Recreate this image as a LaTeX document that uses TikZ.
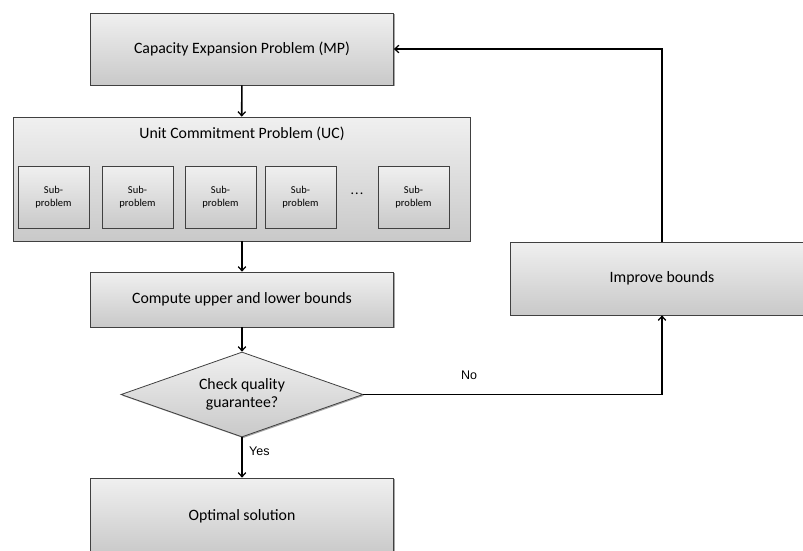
\documentclass[tikz,border=0pt]{standalone}
\usepackage{fontspec}
\setmainfont{Carlito}
\newfontfamily\labelfont{Liberation Sans}
\usetikzlibrary{shapes.geometric,shadows,arrows.meta}
\definecolor{boxtop}{HTML}{F0F0F0}
\definecolor{boxbot}{HTML}{C9C9C9}
\definecolor{boxline}{HTML}{404040}
\tikzset{
  panel/.style={draw=boxline, line width=0.8pt, top color=boxtop, bottom color=boxbot,
    drop shadow={shadow xshift=1.2pt, shadow yshift=-1.2pt, opacity=0.35, fill=black},
    inner sep=0pt, align=center, font=\fontsize{15.8}{18}\selectfont},
  subbox/.style={panel, minimum width=71pt, minimum height=62pt,
    font=\fontsize{10.5}{12.5}\selectfont},
  decision/.style={panel, diamond, minimum width=242pt, minimum height=85pt, aspect=2.85},
  flow/.style={line width=1.6pt, -{Straight Barb[length=4pt,width=7.5pt,line width=1.3pt]}},
  tag/.style={font=\labelfont\fontsize{12.5}{14}\selectfont}
}
\begin{document}
\begin{tikzpicture}[x=1pt,y=-1pt]
\useasboundingbox (0,0) rectangle (803,550);

% main chain of steps
\node[panel, minimum width=303pt, minimum height=72pt] (mp) at (242,49) {Capacity Expansion Problem (MP)};
\node[panel, minimum width=457pt, minimum height=124pt] (uc) at (241.5,179) {};
\node[font=\fontsize{15.8}{18}\selectfont] (uctitle) at (242,134) {Unit Commitment Problem (UC)};
\node[subbox] (s1) at (53.5,197) {Sub-\\problem};
\node[subbox] (s2) at (137.5,197) {Sub-\\problem};
\node[subbox] (s3) at (220.5,197) {Sub-\\problem};
\node[subbox] (s4) at (300.5,197) {Sub-\\problem};
\node[font=\fontsize{14}{16}\selectfont] (dots) at (357,194) {.\kern1.2pt.\kern1.2pt.};
\node[subbox] (s5) at (413.5,197) {Sub-\\problem};
\node[panel, minimum width=303pt, minimum height=55pt] (bounds) at (242,299.5) {Compute upper and lower bounds};
\node[decision] (check) at (242,394.5) {Check quality\\guarantee?};
\node[panel, minimum width=303pt, minimum height=76pt] (opt) at (242,516) {Optimal solution};
\node[panel, minimum width=304pt, minimum height=73pt] (improve) at (662,278.5) {Improve bounds};

% connectors
\draw[flow] (mp) -- (uc);
\draw[flow] (uc.south -| bounds.north) -- (bounds);
\draw[flow] (bounds) -- (check);
\draw[flow] (check) -- node[tag, right=3pt, pos=0.35] (yes) {Yes} (opt);
\draw[flow] (check.east) -| node[tag, above=11pt, pos=0.177] (no) {No} (improve.south);
\draw[flow] (improve.north) |- (mp.east);
\end{tikzpicture}
\end{document}
